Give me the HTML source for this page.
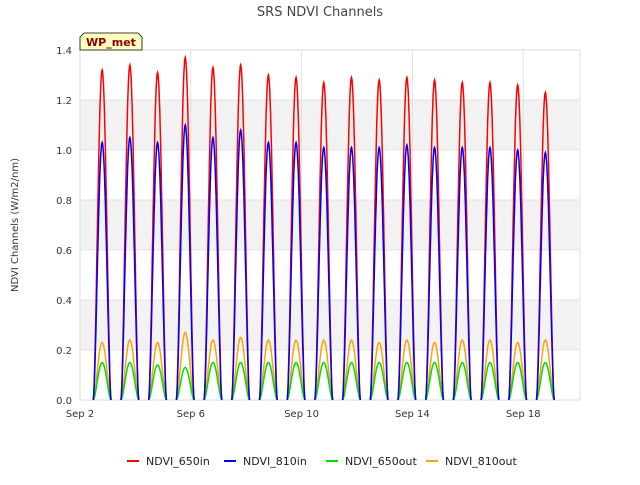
<!DOCTYPE html>
<html><head><meta charset="utf-8"><style>
body{margin:0;background:#fff;font-family:"Liberation Sans","DejaVu Sans",sans-serif}
</style></head><body>
<svg id="c" width="640" height="480" xmlns="http://www.w3.org/2000/svg" font-family="DejaVu Sans, Liberation Sans, sans-serif"></svg>
<script>
const dayLabels=["Sep 2","Sep 6","Sep 10","Sep 14","Sep 18"];
const dayTicks=[2,6,10,14,18];
const yTicks=[0,0.2,0.4,0.6,0.8,1.0,1.2,1.4];
const days=[3,4,5,6,7,8,9,10,11,12,13,14,15,16,17,18,19];
const peak650in=[1.32,1.34,1.31,1.37,1.33,1.34,1.30,1.29,1.27,1.29,1.28,1.29,1.28,1.27,1.27,1.26,1.23];
const peak810in=[1.03,1.05,1.03,1.10,1.05,1.08,1.03,1.03,1.01,1.01,1.01,1.02,1.01,1.01,1.01,1.00,0.99];
const peak650out=[0.15,0.15,0.14,0.13,0.15,0.15,0.15,0.15,0.15,0.15,0.15,0.15,0.15,0.15,0.15,0.15,0.15];
const peak810out=[0.23,0.24,0.23,0.27,0.24,0.25,0.24,0.24,0.24,0.24,0.23,0.24,0.23,0.24,0.24,0.23,0.24];
const L=80,R=580,T=50,B=400;
const x=d=>L+(d-2)*27.7;
const y=v=>B-(v/1.4)*(B-T);
const s=document.getElementById('c');
const NS="http://www.w3.org/2000/svg";
function el(t,a,p){const e=document.createElementNS(NS,t);for(const k in a)e.setAttribute(k,a[k]);(p||s).appendChild(e);return e;}
el('rect',{x:L,y:T,width:R-L,height:B-T,fill:'#fff',stroke:'#ddd'});
for(let i=0;i<3;i++){const b=el('rect',{x:L,y:y(0.4+i*0.4),width:R-L,height:y(0.2)-y(0.4),fill:'#f2f2f2'});}
yTicks.forEach(v=>{el('line',{x1:L,x2:R,y1:y(v),y2:y(v),stroke:'#ddd','stroke-width':0.8});
const t=el('text',{x:L-8,y:y(v)+4,'text-anchor':'end','font-size':10,fill:'#333'});t.textContent=v.toFixed(1);
});
dayTicks.forEach((d,i)=>{el('line',{x1:x(d),x2:x(d),y1:T,y2:B,stroke:'#ddd','stroke-width':0.8});
const t=el('text',{x:x(d),y:B+17,'text-anchor':'middle','font-size':10,fill:'#333'});t.textContent=dayLabels[i];
});
function series(peaks,color,name){let d='';
days.forEach((dd,i)=>{const c=dd-0.2;const pts=[];
for(let k=0;k<=40;k++){const f=k/40;const tt=c-0.32+0.64*f;const v=peaks[i]*Math.pow(Math.sin(Math.PI*f),1.6);pts.push(x(tt).toFixed(1)+','+y(v).toFixed(1));}
d+='M'+pts.join('L');});
const p=el('path',{d:d,fill:'none',stroke:color,'stroke-width':1.5});
}
series(peak810out,'orange','series-ndvi-810out');
series(peak650out,'#00e000','series-ndvi-650out');
series(peak650in,'red','series-ndvi-650in');
series(peak810in,'blue','series-ndvi-810in');
let t=el('text',{x:320,y:16,'text-anchor':'middle','font-size':13,fill:'#444'});t.textContent='SRS NDVI Channels';

t=el('text',{x:18,y:225,'text-anchor':'middle','font-size':10,fill:'#333',transform:'rotate(-90 18 225)'});t.textContent='NDVI Channels (W/m2/nm)';

const g=el('g',{});
el('path',{d:'M80,50 L80,37 L84,33 L138,33 L142,37 L142,50 Z',fill:'#ffffc0',stroke:'#000','stroke-width':0.8},g);
t=el('text',{x:111,y:46,'text-anchor':'middle','font-size':11,'font-weight':'bold',fill:'#8b0000'},g);t.textContent='WP_met';
const leg=[['NDVI_650in','red',127],['NDVI_810in','blue',224],['NDVI_650out','#00e000',326],['NDVI_810out','orange',426]];
leg.forEach(l=>{const lg=el('g',{});
el('line',{x1:l[2],x2:l[2]+12,y1:461,y2:461,stroke:l[1],'stroke-width':2},lg);
const tx=el('text',{x:l[2]+19,y:465,'font-size':11,fill:'#222'},lg);tx.textContent=l[0];});
</script>
</body></html>
